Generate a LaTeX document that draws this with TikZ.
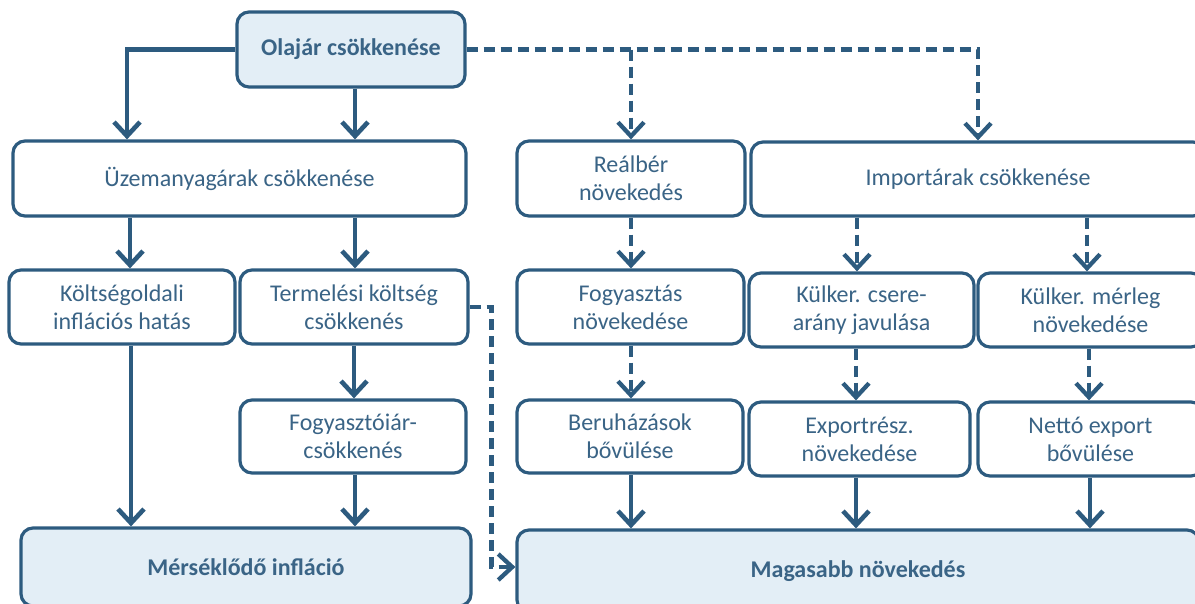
\documentclass[tikz,border=0pt]{standalone}
\usepackage{fontspec}
\setmainfont{Carlito}
\usetikzlibrary{arrows.meta}
\definecolor{ln}{HTML}{2D5B7F}
\definecolor{tx}{HTML}{3A6486}
\definecolor{fl}{HTML}{E3EEF6}
\tikzset{
  box/.style={draw=ln, line width=3.2pt, rounded corners=12pt, fill=white, text=tx,
    align=center, inner sep=0pt, font=\fontsize{24}{28}\selectfont},
  hl/.style={box, fill=fl, font=\bfseries\fontsize{24}{28}\selectfont},
  arr/.style={draw=ln, line width=4.6pt, -{Straight Barb[length=14pt,width=26pt]}},
  darr/.style={arr, line width=4.3pt, dash pattern=on 11pt off 6pt}
}
\begin{document}
\begin{tikzpicture}[x=1pt,y=-1pt]
\useasboundingbox (0,0) rectangle (1195,603);
\clip (0,0) rectangle (1195,603);
% nodes
\node[hl, minimum width=228, minimum height=75] (oil) at (351,49.5) {Olajár csökkenése};
\node[box, minimum width=453, minimum height=75] (uzem) at (239.5,178.5) {Üzemanyagárak csökkenése};
\node[box, minimum width=228, minimum height=75] (real) at (631,178.5) {Reálbér\\növekedés};
\node[box, minimum width=454, minimum height=74] (imp) at (978,179) {Importárak csökkenése};
\node[box, minimum width=226, minimum height=74] (kolt) at (122,307) {Költségoldali\\inflációs hatás};
\node[box, minimum width=228, minimum height=74] (term) at (354,307) {Termelési költség\\csökkenés};
\node[box, minimum width=227, minimum height=74] (fogy) at (630.5,307) {Fogyasztás\\növekedése};
\node[box, minimum width=225, minimum height=74] (kcs) at (861.5,310) {Külker. csere-\\arány javulása};
\node[box, minimum width=225, minimum height=74] (kmer) at (1090.5,310) {Külker. mérleg\\növekedése};
\node[box, minimum width=226, minimum height=73] (fogyar) at (353,436.5) {Fogyasztóiár-\\csökkenés};
\node[box, minimum width=226, minimum height=73] (ber) at (630,436.5) {Beruházások\\bővülése};
\node[box, minimum width=221, minimum height=74] (exp) at (859.5,439) {Exportrész.\\növekedése};
\node[box, minimum width=225, minimum height=74] (net) at (1090.5,439) {Nettó export\\bővülése};
\node[hl, minimum width=450, minimum height=78] (mers) at (246,567) {Mérséklődő infláció};
\node[hl, minimum width=682, minimum height=82] (mag) at (858,571) {Magasabb növekedés};
\coordinate (j1) at (631,49.5);
% solid connectors
\draw[arr] (oil.west) -| (uzem.north -| 127,0);
\draw[arr] (oil.south -| 355,0) -- (uzem.north -| 355,0);
\draw[arr] (uzem.south -| 130,0) -- (kolt.north -| 130,0);
\draw[arr] (uzem.south -| 355,0) -- (term.north -| 355,0);
\draw[arr] (kolt.south -| 131,0) -- (mers.north -| 131,0);
\draw[arr] (term.south -| 354,0) -- (fogyar.north -| 354,0);
\draw[arr] (fogyar.south -| 355,0) -- (mers.north -| 355,0);
\draw[arr] (ber.south -| 631,0) -- (mag.north -| 631,0);
\draw[arr] (exp.south -| 856,0) -- (mag.north -| 856,0);
\draw[arr] (net.south -| 1090,0) -- (mag.north -| 1090,0);
% dashed connectors
\draw[darr] (oil.east) -| (imp.north -| 978,0);
\draw[darr] (j1) -- (real.north -| j1);
\draw[darr] (term.east) -- ++(22,0) |- (mag.west |- 0,567);
\draw[darr] (real.south -| 631,0) -- (fogy.north -| 631,0);
\draw[darr] (fogy.south -| 631,0) -- (ber.north -| 631,0);
\draw[darr] (imp.south -| 857,0) -- (kcs.north -| 857,0);
\draw[darr] (imp.south -| 1087,0) -- (kmer.north -| 1087,0);
\draw[darr] (kcs.south -| 856,0) -- (exp.north -| 856,0);
\draw[darr] (kmer.south -| 1089,0) -- (net.north -| 1089,0);
\end{tikzpicture}
\end{document}
